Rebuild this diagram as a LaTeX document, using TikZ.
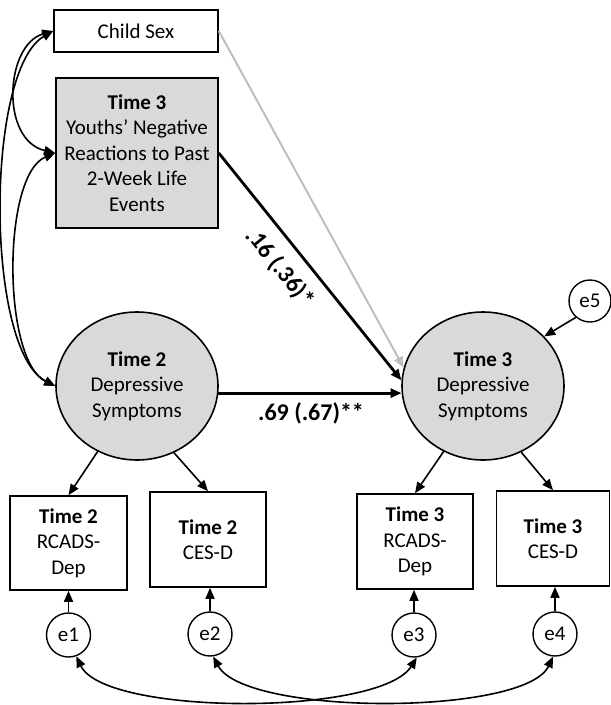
\documentclass[tikz,border=0pt]{standalone}
\usepackage{fontspec}
\setmainfont{Carlito}
\usetikzlibrary{arrows.meta,shapes.geometric}
\definecolor{boxgray}{RGB}{217,217,217}
\definecolor{linegray}{RGB}{190,190,190}
\begin{document}
\begin{tikzpicture}[x=1pt,y=-1pt,
  tx/.style={font=\fontsize{21}{25.6}\selectfont, align=center, text=black},
  box/.style={draw, line width=1.6pt, rectangle, inner sep=0pt, tx},
  latent/.style={draw, line width=1.6pt, ellipse, inner sep=0pt, fill=boxgray, minimum width=162, minimum height=148, tx},
  err/.style={draw, line width=1.4pt, circle, inner sep=0pt, minimum size=44, tx},
  tip/.style={-{Triangle[length=11pt,width=9pt]}},
  dtip/.style={{Triangle[length=11pt,width=9pt]}-{Triangle[length=11pt,width=9pt]}},
  thinline/.style={line width=1.6pt},
  thickline/.style={line width=2.8pt},
  lbl/.style={font=\fontsize{24}{28}\selectfont\bfseries, inner sep=0pt}
]
\useasboundingbox (0,0) rectangle (611,705);

% top observed variables
\node[box, minimum width=164, minimum height=42] (cs) at (136,31) {Child Sex};
\node[box, fill=boxgray, minimum width=162, minimum height=150] (yo) at (137,153)
  {\textbf{Time 3}\\Youths’ Negative\\Reactions to Past\\2-Week Life\\Events};

% latent variables
\node[latent] (t2) at (137,386) {\textbf{Time 2}\\Depressive\\Symptoms};
\node[latent] (t3) at (483,386) {\textbf{Time 3}\\Depressive\\Symptoms};

% indicators
\node[box, minimum width=117, minimum height=94] (r2) at (68.5,543) {\textbf{Time 2}\\RCADS-\\Dep};
\node[box, minimum width=116, minimum height=95] (c2) at (208,539.5) {\textbf{Time 2}\\CES-D};
\node[box, minimum width=116, minimum height=95] (r3) at (415,541.5) {\textbf{Time 3}\\RCADS-\\Dep};
\node[box, minimum width=113, minimum height=95] (c3) at (553,538.5) {\textbf{Time 3}\\CES-D};

% errors
\node[err] (e1) at (68.5,635) {e1};
\node[err] (e2) at (210,634) {e2};
\node[err] (e3) at (414,635) {e3};
\node[err] (e4) at (555,634) {e4};
\node[err, minimum size=42] (e5) at (590,301) {e5};

% structural paths
\draw[tip, line width=2pt, draw=linegray] (cs.east) -- (t3.167);
\draw[tip, thickline] (yo.east) -- (t3.176);
\draw[tip, thickline] (t2.-5) -- (t3.185);
\draw[tip, thinline] (e5.229) -- (t3.39);

% loadings
\draw[tip, thinline] (t2.239) -- (r2.north);
\draw[tip, thinline] (t2.-61) -- (c2.north);
\draw[tip, thinline] (t3.239) -- (r3.north);
\draw[tip, thinline] (t3.-60) -- (c3.north);

% error paths
\draw[tip, thinline] (e1.north) -- (e1.north |- r2.south);
\draw[tip, thinline] (e2.north) -- (e2.north |- c2.south);
\draw[tip, thinline] (e3.north) -- (e3.north |- r3.south);
\draw[tip, thinline] (e4.north) -- (e4.north |- c3.south);

% covariances left
\draw[dtip, thinline] (cs.west) .. controls (5,45) and (0,140) .. (yo.west);
\draw[dtip, thinline] (cs.west) .. controls (-15,70) and (-15,350) .. (t2.west);
\draw[dtip, thinline] (yo.west) .. controls (2,175) and (2,360) .. (t2.west);

% covariances bottom
\draw[dtip, thinline] (e1.-70) .. controls (105,716) and (380,716) .. (e3.-83);
\draw[dtip, thinline] (e2.-82) .. controls (245,716) and (525,716) .. (e4.-95);

% labels
\node[lbl, rotate=-51] (l16) at (280,268) {.16 (.36)*};
\node[lbl] (l69) at (311,413) {.69 (.67)**};
\end{tikzpicture}
\end{document}
